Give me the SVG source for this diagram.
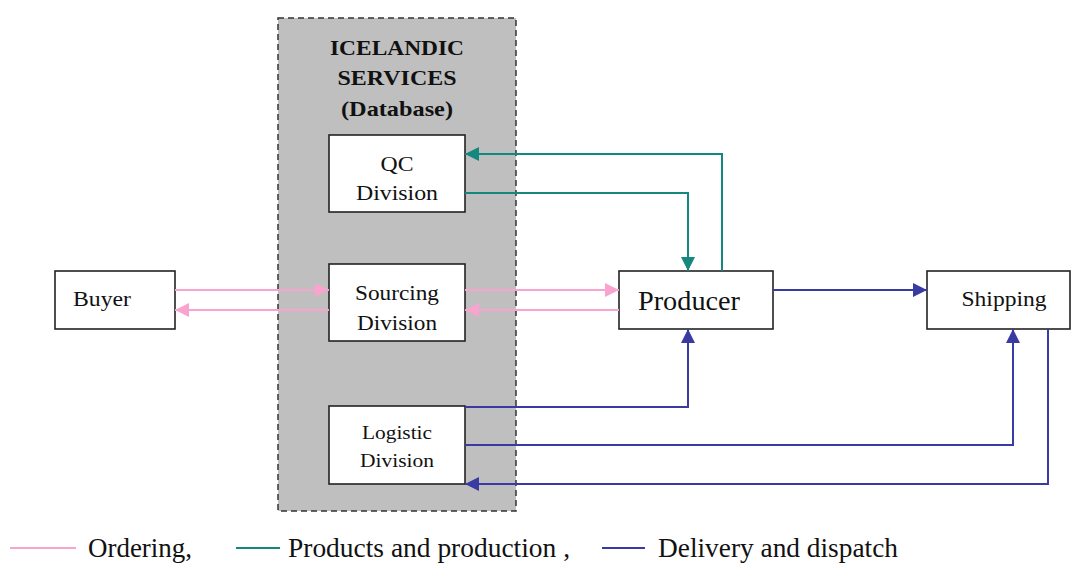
<svg xmlns="http://www.w3.org/2000/svg" width="1071" height="563" viewBox="0 0 1071 563">
<style>
.box{fill:#fff;stroke:#222;stroke-width:1.6}
.pink{stroke:#f9a3cf;stroke-width:2;fill:none}
.teal{stroke:#14877f;stroke-width:2;fill:none}
.blue{stroke:#3a3aa3;stroke-width:2;fill:none}
</style>
<defs>
<marker id="ap" viewBox="0 0 10 10" refX="10" refY="5" markerWidth="14" markerHeight="14" markerUnits="userSpaceOnUse" orient="auto"><path d="M0,0L10,5L0,10z" fill="#f9a3cf"/></marker>
<marker id="at" viewBox="0 0 10 10" refX="10" refY="5" markerWidth="14" markerHeight="14" markerUnits="userSpaceOnUse" orient="auto"><path d="M0,0L10,5L0,10z" fill="#14877f"/></marker>
<marker id="ab" viewBox="0 0 10 10" refX="10" refY="5" markerWidth="14" markerHeight="14" markerUnits="userSpaceOnUse" orient="auto"><path d="M0,0L10,5L0,10z" fill="#3a3aa3"/></marker>
</defs>
<rect width="1071" height="563" fill="#fff"/>
<g font-family="Liberation Serif, DejaVu Serif, serif" fill="#111" text-anchor="middle">
<g id="icelandic-services">
<rect x="278" y="18" width="238" height="493" fill="#bfbfbf" stroke="#333" stroke-width="1.5" stroke-dasharray="6,4"/>
<text x="397" y="55" font-size="22" font-weight="bold" textLength="134" lengthAdjust="spacingAndGlyphs">ICELANDIC</text>
<text x="397" y="85" font-size="22" font-weight="bold" textLength="119" lengthAdjust="spacingAndGlyphs">SERVICES</text>
<text x="397" y="116" font-size="22" font-weight="bold" textLength="112" lengthAdjust="spacingAndGlyphs">(Database)</text>
</g>
<g id="qc-division">
<rect class="box" x="329" y="135" width="136" height="77"/>
<text x="397" y="171" font-size="21" textLength="33" lengthAdjust="spacingAndGlyphs">QC</text>
<text x="397" y="200" font-size="21" textLength="82" lengthAdjust="spacingAndGlyphs">Division</text>
</g>
<g id="sourcing-division">
<rect class="box" x="329" y="264" width="136" height="77"/>
<text x="397" y="300" font-size="21" textLength="84" lengthAdjust="spacingAndGlyphs">Sourcing</text>
<text x="397" y="330" font-size="21" textLength="80" lengthAdjust="spacingAndGlyphs">Division</text>
</g>
<g id="logistic-division">
<rect class="box" x="329" y="406" width="136" height="78"/>
<text x="397" y="439" font-size="19" textLength="70" lengthAdjust="spacingAndGlyphs">Logistic</text>
<text x="397" y="467" font-size="19" textLength="74" lengthAdjust="spacingAndGlyphs">Division</text>
</g>
<g id="buyer">
<rect class="box" x="55" y="271" width="120" height="58"/>
<text x="102" y="306" font-size="21" textLength="58" lengthAdjust="spacingAndGlyphs">Buyer</text>
</g>
<g id="producer">
<rect class="box" x="619" y="271" width="154" height="58"/>
<text x="689" y="310" font-size="27" textLength="102" lengthAdjust="spacingAndGlyphs">Producer</text>
</g>
<g id="shipping">
<rect class="box" x="927" y="271" width="143" height="58"/>
<text x="1004" y="306" font-size="21" textLength="85" lengthAdjust="spacingAndGlyphs">Shipping</text>
</g>
<g id="connectors">
<path class="pink" d="M175,290H329" marker-end="url(#ap)"/>
<path class="pink" d="M329,310H175" marker-end="url(#ap)"/>
<path class="pink" d="M465,290H619" marker-end="url(#ap)"/>
<path class="pink" d="M619,310H465" marker-end="url(#ap)"/>
<path class="teal" d="M465,193H688V271" marker-end="url(#at)"/>
<path class="teal" d="M722,271V154H465" marker-end="url(#at)"/>
<path class="blue" d="M773,290H927" marker-end="url(#ab)"/>
<path class="blue" d="M465,407H688V329" marker-end="url(#ab)"/>
<path class="blue" d="M465,445H1013V329" marker-end="url(#ab)"/>
<path class="blue" d="M1048,329V484H465" marker-end="url(#ab)"/>
</g>
<g id="legend" text-anchor="start">
<line x1="10" y1="548" x2="76" y2="548" stroke="#f9a3cf" stroke-width="2"/>
<line x1="236" y1="548" x2="280" y2="548" stroke="#14877f" stroke-width="2"/>
<line x1="602" y1="548" x2="645" y2="548" stroke="#3a3aa3" stroke-width="2"/>
<text x="88" y="557" font-size="27" textLength="104" lengthAdjust="spacingAndGlyphs">Ordering,</text>
<text x="288" y="557" font-size="27" textLength="282" lengthAdjust="spacingAndGlyphs">Products and production ,</text>
<text x="658" y="557" font-size="27" textLength="240" lengthAdjust="spacingAndGlyphs">Delivery and dispatch</text>
</g>
</g>
</svg>
